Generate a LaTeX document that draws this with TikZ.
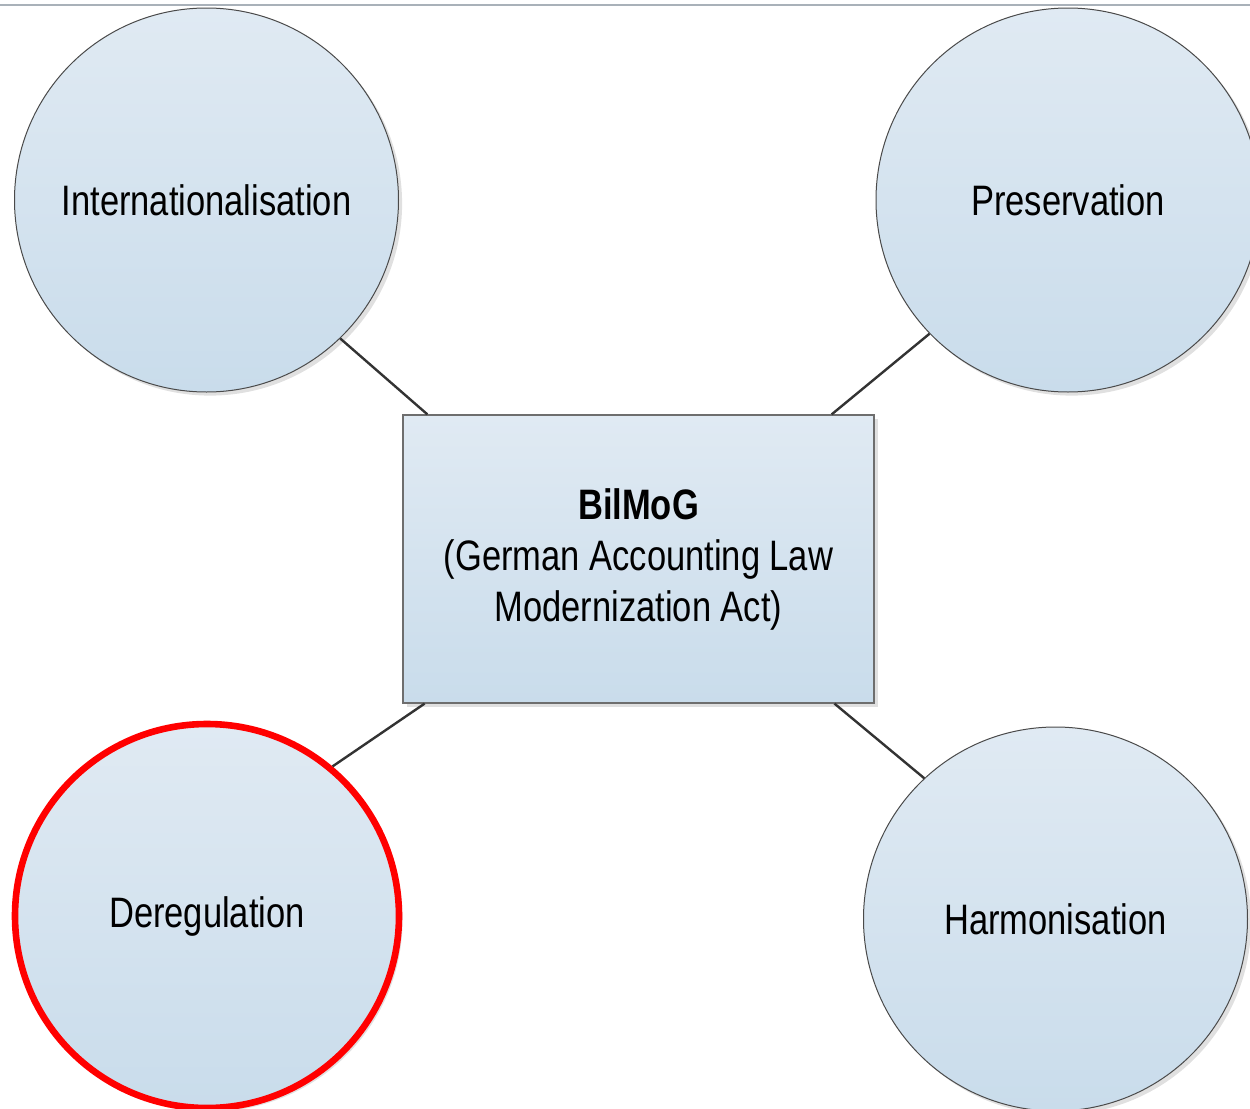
\documentclass[tikz,border=0pt]{standalone}
\usepackage{fontspec}
\setmainfont[FakeStretch=0.81]{Liberation Sans}
\usetikzlibrary{shadows,calc}

\definecolor{fillTop}{HTML}{E0EAF3}
\definecolor{fillBot}{HTML}{C9DCEB}
\definecolor{edgeGray}{HTML}{4A4A4A}
\definecolor{ruleGray}{HTML}{A9B1B9}
\definecolor{linkGray}{HTML}{333333}
\definecolor{alertRed}{HTML}{FF0000}

\tikzset{
  softshadow/.style={drop shadow={shadow xshift=1.8pt, shadow yshift=-1.8pt, fill=black, opacity=0.12}},
  topic/.style={circle, minimum size=192pt, inner sep=0pt, draw=edgeGray, line width=0.5pt,
    top color=fillTop, bottom color=fillBot, softshadow,
    font=\fontsize{21.3pt}{25.5pt}\selectfont, text=black},
  hub/.style={rectangle, minimum width=235.5pt, minimum height=144pt, inner sep=0pt,
    draw=edgeGray!80, line width=0.6pt, top color=fillTop, bottom color=fillBot, softshadow,
    align=center, font=\fontsize{21.3pt}{25.5pt}\selectfont, text=black},
  link/.style={draw=linkGray, line width=1.2pt},
  alert/.style={draw=alertRed, line width=3.3pt}
}

\begin{document}
\begin{tikzpicture}[x=0.5pt, y=-0.5pt]
  \useasboundingbox (0,0) rectangle (1250,1109);

  % thin rule along the top edge
  \coordinate (ruleL) at (0,5);
  \coordinate (ruleR) at (1250,5);
  \draw[ruleGray, line width=0.8pt] (ruleL) -- (ruleR);

  % central act
  \node[hub] (act) at (638.5,559) {\textbf{BilMoG}\\(German Accounting Law\\Modernization Act)};

  % surrounding themes
  \node[topic] (intl) at (206.5,200) {Internationalisation};
  \node[topic] (pres) at (1068,200) {Preservation};
  \node[topic, alert] (dereg) at (207,916) {\raisebox{-1.5pt}{Deregulation}};
  \node[topic] (harm) at (1055.5,919) {Harmonisation};

  % connectors between themes and the act
  \draw[link] (intl.-46.5) -- ($(act.north west)!0.053!(act.north east)$);
  \draw[link] (pres.-136.9) -- ($(act.north west)!0.909!(act.north east)$);
  \draw[link] (dereg.50) -- ($(act.south west)!0.047!(act.south east)$);
  \draw[link] (harm.133.7) -- ($(act.south west)!0.915!(act.south east)$);
\end{tikzpicture}
\end{document}
